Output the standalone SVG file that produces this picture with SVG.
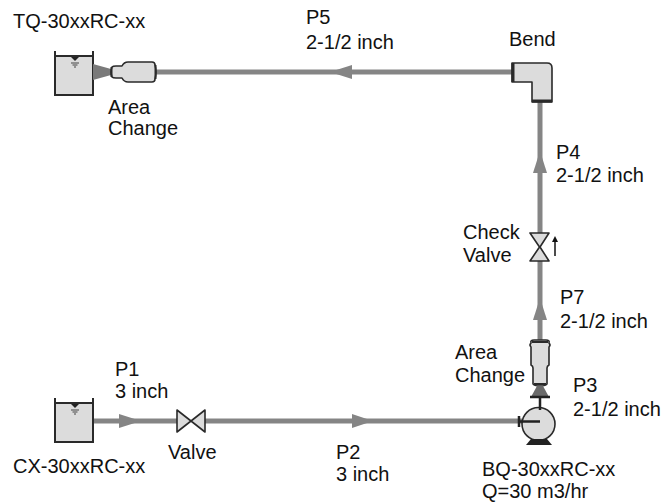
<svg xmlns="http://www.w3.org/2000/svg" width="663" height="503" viewBox="0 0 663 503">
<style>
.t{font-family:"Liberation Sans",Arial,sans-serif;font-size:20px;fill:#111}
.pipe{stroke:#858585;stroke-width:5;fill:none}
.arr{fill:#858585}
.obj{fill:#dcdcdc;stroke:#2a2a2a;stroke-width:1.6;stroke-linejoin:round}
.dk{stroke:#2a2a2a;stroke-width:2;fill:none}
</style>
<rect width="663" height="503" fill="#fff"/>
<g id="connectors">
<line class="pipe" x1="93" y1="72" x2="512" y2="72"/>
<polygon class="arr" points="330,72 352,65 352,79"/>
<line class="pipe" x1="540" y1="102" x2="540" y2="233"/>
<polygon class="arr" points="540,151 533,173 547,173"/>
<line class="pipe" x1="540" y1="261" x2="540" y2="340"/>
<polygon class="arr" points="540,298 533,320 547,320"/>
<line class="pipe" x1="93" y1="421" x2="178" y2="421"/>
<polygon class="arr" points="141,421 119,414 119,428"/>
<line class="pipe" x1="204" y1="421" x2="522" y2="421"/>
<polygon class="arr" points="373,421 352,414 352,428"/>
</g>
<g id="tank-top">
<rect x="55" y="56" width="38" height="39" fill="#dcdcdc"/>
<path class="dk" d="M55,51 V95 H93 V51 M55,56 H93"/>
<polygon points="71,57 79,57 75,61" fill="#222"/>
<path d="M71,63 H79 M72.5,65 H77.5 M74,67 H76" stroke="#444" stroke-width="1.2"/>
</g>
<g id="tank-bottom">
<rect x="55" y="403" width="38" height="39" fill="#dcdcdc"/>
<path class="dk" d="M55,398 V442 H93 V398 M55,403 H93"/>
<polygon points="71,404 79,404 75,408" fill="#222"/>
<path d="M71,410 H79 M72.5,412 H77.5 M74,414 H76" stroke="#444" stroke-width="1.2"/>
</g>
<g id="area-change-top">
<polygon points="93,64 93,80 111,75 111,69" fill="#7a7a7a"/>
<path class="obj" d="M112,67 Q110,72 112,77 Q113,78 116,78 H122 Q124,82 128,82 H152 Q155,82 155,79 Q157,72 155,65 Q155,62 152,62 H128 Q124,62 122,66 H116 Q113,66 112,67 Z"/>
<path d="M111.5,67 V77 M155.5,65 V79" stroke="#2a2a2a" stroke-width="2"/>
</g>
<g id="bend">
<path class="obj" d="M512,63 H547 Q552,63 552,68 V102 H532 V82 H512 Z"/>
<path d="M513,63 V82 M532,101 H552" stroke="#2a2a2a" stroke-width="3"/>
</g>
<g id="check-valve">
<polygon class="obj" points="530,233 549,233 540,247 549,261 530,261 539.5,247"/>
<path d="M555,256 V239" stroke="#111" stroke-width="1.5"/>
<polygon points="555,236 552,242 558,242" fill="#111"/>
</g>
<g id="area-change-pump">
<path class="obj" d="M531,343 Q530,340 534,340 H546 Q550,340 549,343 Q551,345 549,347 V365 Q547,366 547,368 V384 Q546,386 540,386 Q534,386 533,384 V368 Q533,366 531,365 V347 Q529,345 531,343 Z"/>
<path d="M532,342 H548 M534,384 H546" stroke="#2a2a2a" stroke-width="2"/>
<polygon points="537,386 543,386 549,397 531,397" fill="#6a6a6a"/>
</g>
<g id="pump">
<circle class="obj" cx="538.5" cy="424" r="16.5"/>
<path d="M531,439 H547 L552,445 H526 Z" fill="#222"/>
<path d="M530,397 H550 M540,397 V410" stroke="#222" stroke-width="2.5"/>
<path d="M519,416 V427 M519,421.5 H540" stroke="#222" stroke-width="2.5"/>
</g>
<g id="valve">
<polygon class="obj" points="177,410 191,421 177,432"/>
<polygon class="obj" points="205,410 191,421 205,432"/>
</g>
<g id="labels">
<text class="t" x="13" y="28">TQ-30xxRC-xx</text>
<text class="t" x="306" y="24">P5</text>
<text class="t" x="306" y="49">2-1/2 inch</text>
<text class="t" x="509" y="46">Bend</text>
<text class="t" x="108" y="114">Area</text>
<text class="t" x="108" y="135">Change</text>
<text class="t" x="556" y="159">P4</text>
<text class="t" x="556" y="182">2-1/2 inch</text>
<text class="t" x="463" y="239">Check</text>
<text class="t" x="463" y="262">Valve</text>
<text class="t" x="560" y="304">P7</text>
<text class="t" x="560" y="328">2-1/2 inch</text>
<text class="t" x="455" y="359">Area</text>
<text class="t" x="455" y="382">Change</text>
<text class="t" x="573" y="392">P3</text>
<text class="t" x="573" y="416">2-1/2 inch</text>
<text class="t" x="115" y="376">P1</text>
<text class="t" x="115" y="398">3 inch</text>
<text class="t" x="168" y="459">Valve</text>
<text class="t" x="13" y="473">CX-30xxRC-xx</text>
<text class="t" x="336" y="459">P2</text>
<text class="t" x="336" y="481">3 inch</text>
<text class="t" x="482" y="476">BQ-30xxRC-xx</text>
<text class="t" x="482" y="498">Q=30 m3/hr</text>
</g>
</svg>
